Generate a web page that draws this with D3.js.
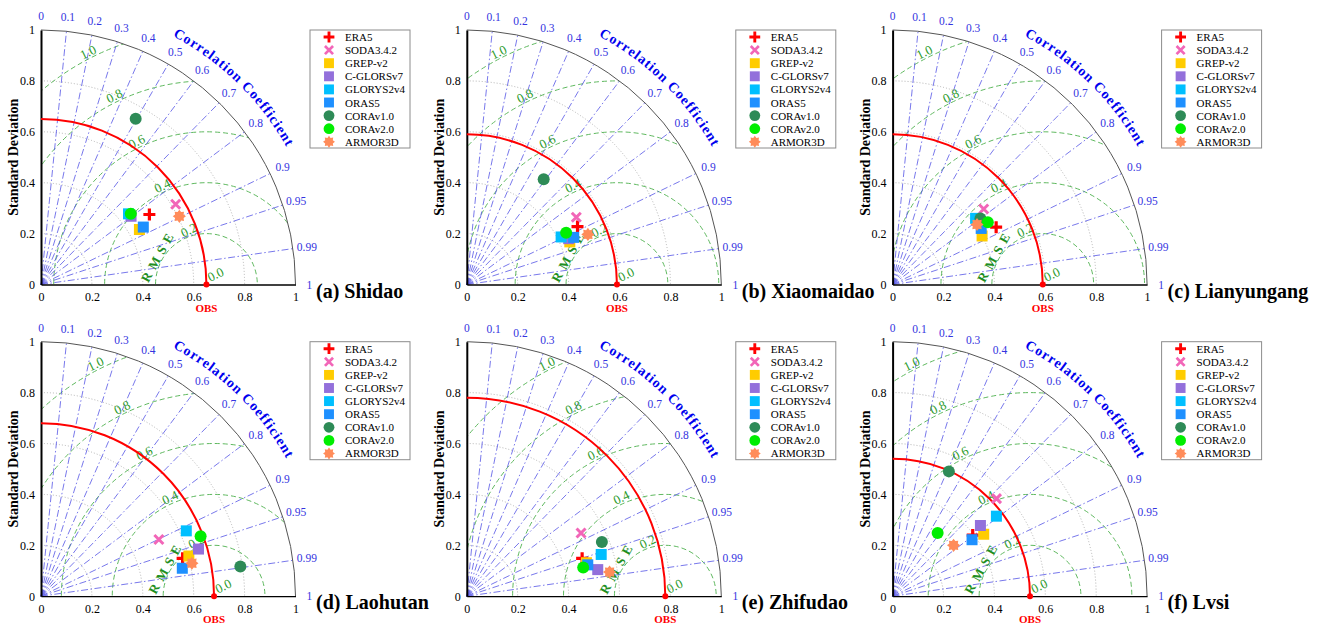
<!DOCTYPE html>
<html>
<head>
<meta charset="utf-8">
<script src="https://cdn.jsdelivr.net/npm/d3@7"></script>
<style>
  body { margin: 0; background: #fff; }
  svg { display: block; }
  text { font-family: "Liberation Serif", "Times New Roman", serif; }
</style>
</head>
<body>
<div id="chart"></div>
<script>
// ---- data ----
const stations = ["Shidao", "Xiaomaidao", "Lianyungang", "Laohutan", "Zhifudao", "Lvsi"];
const panelTags = ["(a)", "(b)", "(c)", "(d)", "(e)", "(f)"];
const obsStd = [0.65, 0.59, 0.59, 0.68, 0.78, 0.54];
const products = ["ERA5", "SODA3.4.2", "GREP-v2", "C-GLORSv7", "GLORYS2v4", "ORAS5", "CORAv1.0", "CORAv2.0", "ARMOR3D"];

// standard deviation of each product, one row per station (same order as products)
const stdDev = [
  [0.507, 0.616, 0.443, 0.444, 0.442, 0.461, 0.750, 0.449, 0.606],
  [0.491, 0.505, 0.438, 0.439, 0.415, 0.459, 0.512, 0.440, 0.515],
  [0.465, 0.465, 0.400, 0.419, 0.417, 0.412, 0.432, 0.447, 0.407],
  [0.576, 0.514, 0.602, 0.646, 0.626, 0.566, 0.792, 0.670, 0.607],
  [0.477, 0.513, 0.488, 0.525, 0.553, 0.491, 0.572, 0.471, 0.569],
  [0.396, 0.560, 0.433, 0.443, 0.515, 0.383, 0.538, 0.305, 0.312]
];
// correlation coefficient of each product
const corrCoef = [
  [0.840, 0.859, 0.873, 0.797, 0.778, 0.872, 0.496, 0.786, 0.897],
  [0.886, 0.852, 0.924, 0.912, 0.893, 0.915, 0.590, 0.887, 0.924],
  [0.875, 0.770, 0.879, 0.811, 0.782, 0.845, 0.799, 0.837, 0.815],
  [0.966, 0.901, 0.965, 0.958, 0.912, 0.981, 0.989, 0.936, 0.977],
  [0.950, 0.875, 0.963, 0.980, 0.955, 0.968, 0.928, 0.971, 0.986],
  [0.795, 0.729, 0.827, 0.779, 0.792, 0.815, 0.411, 0.580, 0.768]
];

const stdTicks = [0, 0.2, 0.4, 0.6, 0.8, 1];
const corrTicks = [0, 0.1, 0.2, 0.3, 0.4, 0.5, 0.6, 0.7, 0.8, 0.9, 0.95, 0.99, 1];
const rmsLevels = [0, 0.2, 0.4, 0.6, 0.8, 1.0];

// ---- styles ----
const markerStyle = [
  {shape: "plus",   color: "#ff0000"},
  {shape: "x",      color: "#f266b8"},
  {shape: "square", color: "#ffcc00"},
  {shape: "square", color: "#9370db"},
  {shape: "square", color: "#00bfff"},
  {shape: "square", color: "#1e90ff"},
  {shape: "circle", color: "#2e8b57"},
  {shape: "circle", color: "#00ee00"},
  {shape: "star",   color: "#ff8c5a"}
];

const W = 1320, H = 625;
const R = 254.5;
const rs = d3.scaleLinear().domain([0, 1]).range([0, R]);
const xScale = d3.scaleLinear().domain([0, 1]).range([0, R]);
const yScale = d3.scaleLinear().domain([0, 1]).range([0, -R]);

const svg = d3.select("#chart").append("svg")
    .attr("width", W)
    .attr("height", H);
svg.append("rect").attr("width", W).attr("height", H).attr("fill", "#fff");

// std/corr -> pixel offsets from the panel origin
function polar(s, c) {
  const a = Math.acos(c);
  return [xScale(s * Math.cos(a)), yScale(s * Math.sin(a))];
}
function arcPath(rad) {
  return `M0,${-rad}A${rad},${rad} 0 0 1 ${rad},0`;
}
function starPath(n, ro, ri) {
  const p = [];
  for (let k = 0; k < 2 * n; k++) {
    const rr = k % 2 ? ri : ro;
    const a = Math.PI * k / n - Math.PI / 2;
    p.push([rr * Math.cos(a), rr * Math.sin(a)]);
  }
  return "M" + p.join("L") + "Z";
}

function drawMarker(sel, st, scale) {
  const k = scale || 1;
  if (st.shape === "plus") {
    sel.append("path").attr("d", `M${-6*k},0H${6*k}M0,${-6*k}V${6*k}`)
      .attr("stroke", st.color).attr("stroke-width", 3.2 * k).attr("fill", "none");
  } else if (st.shape === "x") {
    sel.append("path").attr("d", `M${-4.5*k},${-4.5*k}L${4.5*k},${4.5*k}M${-4.5*k},${4.5*k}L${4.5*k},${-4.5*k}`)
      .attr("stroke", st.color).attr("stroke-width", 3 * k).attr("fill", "none");
  } else if (st.shape === "square") {
    sel.append("rect").attr("x", -5.5*k).attr("y", -5.5*k).attr("width", 11*k).attr("height", 11*k)
      .attr("fill", st.color);
  } else if (st.shape === "circle") {
    sel.append("circle").attr("r", 6*k).attr("fill", st.color);
  } else {
    sel.append("path").attr("d", starPath(8, 6.6*k, 4.6*k)).attr("fill", st.color);
  }
}

// measure the curved title glyph by glyph
const ccLabel = "Correlation Coefficient";
const ccFont = 14, ccSpacing = 1.0;
const tmp = svg.append("text").attr("font-size", ccFont).attr("font-weight", "bold");
const ccWidths = Array.from(ccLabel).map(ch => {
  tmp.text(ch === " " ? "\u00a0" : ch);
  return tmp.node().getComputedTextLength();
});
tmp.remove();

function drawPanel(i) {
  const col = i % 3, row = Math.floor(i / 3);
  const ox = 41 + col * 425.8, oy = 284.5 + row * 311.7;
  const g = svg.append("g").attr("transform", `translate(${ox},${oy})`);
  const obs = obsStd[i];

  const clipId = "clip" + i;
  g.append("clipPath").attr("id", clipId).append("path")
    .attr("d", `M0,0V${-R}A${R},${R} 0 0 1 ${R},0Z`);

  // std dev gray dotted arcs
  g.append("g").selectAll("path")
    .data(stdTicks.filter(d => d > 0 && d < 1))
    .join("path")
    .attr("d", d => arcPath(rs(d)))
    .attr("fill", "none")
    .attr("stroke", "#b4b4b4")
    .attr("stroke-width", 1)
    .attr("stroke-dasharray", "1,2");

  // RMSE contours
  g.append("g").attr("clip-path", `url(#${clipId})`)
    .selectAll("circle")
    .data(rmsLevels.filter(d => d > 0))
    .join("circle")
    .attr("cx", xScale(obs))
    .attr("cy", 0)
    .attr("r", d => rs(d))
    .attr("fill", "none")
    .attr("stroke", "#5fb85f")
    .attr("stroke-width", 1)
    .attr("stroke-dasharray", "5,3");

  // correlation radial lines
  g.append("g").selectAll("line")
    .data(corrTicks.filter(d => d > 0 && d < 1))
    .join("line")
    .attr("x1", 0).attr("y1", 0)
    .attr("x2", d => polar(1, d)[0])
    .attr("y2", d => polar(1, d)[1])
    .attr("stroke", "#5555e6")
    .attr("stroke-width", 0.8)
    .attr("stroke-dasharray", "7,2.5,1.5,2.5");

  // outer arc
  g.append("path").attr("d", arcPath(R))
    .attr("fill", "none").attr("stroke", "#555").attr("stroke-width", 1);

  // axes
  const ya = g.append("g").call(d3.axisLeft(yScale).tickValues(stdTicks)
      .tickSize(0).tickPadding(6).tickFormat(d3.format("~g")));
  ya.select(".domain").attr("stroke", "#000").attr("stroke-width", 2);
  ya.selectAll("text").attr("font-size", 12).attr("font-family", "Liberation Serif, serif").attr("fill", "#000");
  const xa = g.append("g").call(d3.axisBottom(xScale).tickValues(stdTicks)
      .tickSize(0).tickPadding(8).tickFormat(d3.format("~g")));
  xa.select(".domain").attr("stroke", "#000").attr("stroke-width", 1.3);
  xa.selectAll("text").attr("font-size", 12).attr("font-family", "Liberation Serif, serif").attr("fill", "#000");

  // correlation tick labels
  g.append("g").selectAll("text")
    .data(corrTicks)
    .join("text")
    .attr("x", d => polar(1.055, d)[0])
    .attr("y", d => polar(1.055, d)[1])
    .attr("text-anchor", "middle")
    .attr("dominant-baseline", "central")
    .attr("font-size", 11.5)
    .attr("fill", "#3434e0")
    .text(d => d);

  // "Correlation Coefficient" along the arc, one glyph at a time
  {
    const rc = rs(1.105), thc = 45.7 * Math.PI / 180;
    const total = d3.sum(ccWidths) + ccSpacing * (ccWidths.length - 1);
    let s = -total / 2;
    const cg = g.append("g")
      .attr("font-size", ccFont)
      .attr("font-weight", "bold")
      .attr("fill", "#0000ee");
    Array.from(ccLabel).forEach((ch, k) => {
      const w = ccWidths[k];
      const th = thc - (s + w / 2) / rc;
      s += w + ccSpacing;
      if (ch === " ") return;
      cg.append("text")
        .attr("transform", `translate(${rc * Math.cos(th)},${-rc * Math.sin(th)}) rotate(${90 - th * 180 / Math.PI})`)
        .attr("text-anchor", "middle")
        .text(ch);
    });
  }

  // RMSE labels
  const lblAngle = {0.2: 108, 0.4: 114, 0.6: 116, 0.8: 116, 1: 117};
  rmsLevels.forEach(lv => {
    let px, py;
    if (lv === 0) {
      px = xScale(obs + 0.036); py = yScale(0.04);
    } else {
      const a = lblAngle[lv] * Math.PI / 180, rr = lv + 0.025;
      px = xScale(obs + rr * Math.cos(a)); py = yScale(rr * Math.sin(a));
    }
    g.append("text")
      .attr("transform", `translate(${px},${py}) rotate(-26)`)
      .attr("text-anchor", "middle")
      .attr("dominant-baseline", "central")
      .attr("font-size", 13)
      .attr("fill", "#2a9a2a")
      .text(d3.format(".1f")(lv));
  });
  {
    const a = 151 * Math.PI / 180, rr = 0.22;
    const px = xScale(obs + rr * Math.cos(a)), py = yScale(rr * Math.sin(a));
    g.append("text")
      .attr("transform", `translate(${px},${py}) rotate(-61)`)
      .attr("text-anchor", "middle")
      .attr("dominant-baseline", "central")
      .attr("font-size", 13)
      .attr("font-weight", "bold")
      .attr("fill", "#1f8f1f")
      .attr("letter-spacing", 1)
      .text("R M S E");
  }

  // observation arc and point
  g.append("path").attr("d", arcPath(rs(obs)))
    .attr("fill", "none").attr("stroke", "#ff0000").attr("stroke-width", 2);
  g.append("circle").attr("cx", xScale(obs)).attr("cy", 0).attr("r", 3).attr("fill", "#ff0000");
  g.append("text")
    .attr("x", xScale(obs)).attr("y", 27)
    .attr("text-anchor", "middle")
    .attr("font-size", 11)
    .attr("font-weight", "bold")
    .attr("fill", "#ff0000")
    .text("OBS");

  // axis title
  g.append("text")
    .attr("transform", `translate(-27.5,${yScale(0.5)}) rotate(-90)`)
    .attr("text-anchor", "middle")
    .attr("dominant-baseline", "central")
    .attr("font-size", 14)
    .attr("font-weight", "bold")
    .text("Standard Deviation");

  // product markers
  const mk = g.append("g");
  products.forEach((p, j) => {
    const [px, py] = polar(stdDev[i][j], corrCoef[i][j]);
    const m = mk.append("g").attr("transform", `translate(${px},${py})`);
    drawMarker(m, markerStyle[j]);
  });

  // legend
  const lg = g.append("g").attr("transform", `translate(269,${-R})`);
  lg.append("rect").attr("width", 100).attr("height", 118)
    .attr("fill", "#fff").attr("stroke", "#8c8c8c").attr("stroke-width", 1);
  products.forEach((p, j) => {
    const yy = 7 + j * 13.1;
    const m = lg.append("g").attr("transform", `translate(19,${yy})`);
    drawMarker(m, markerStyle[j], 0.9);
    lg.append("text")
      .attr("x", 35).attr("y", yy)
      .attr("dominant-baseline", "central")
      .attr("font-size", 11)
      .attr("fill", "#000")
      .text(p);
  });

  // panel label
  g.append("text")
    .attr("x", 275).attr("y", 13)
    .attr("font-size", 20)
    .attr("font-weight", "bold")
    .text(panelTags[i] + " " + stations[i]);
}

stations.forEach((s, i) => drawPanel(i));
</script>
</body>
</html>
